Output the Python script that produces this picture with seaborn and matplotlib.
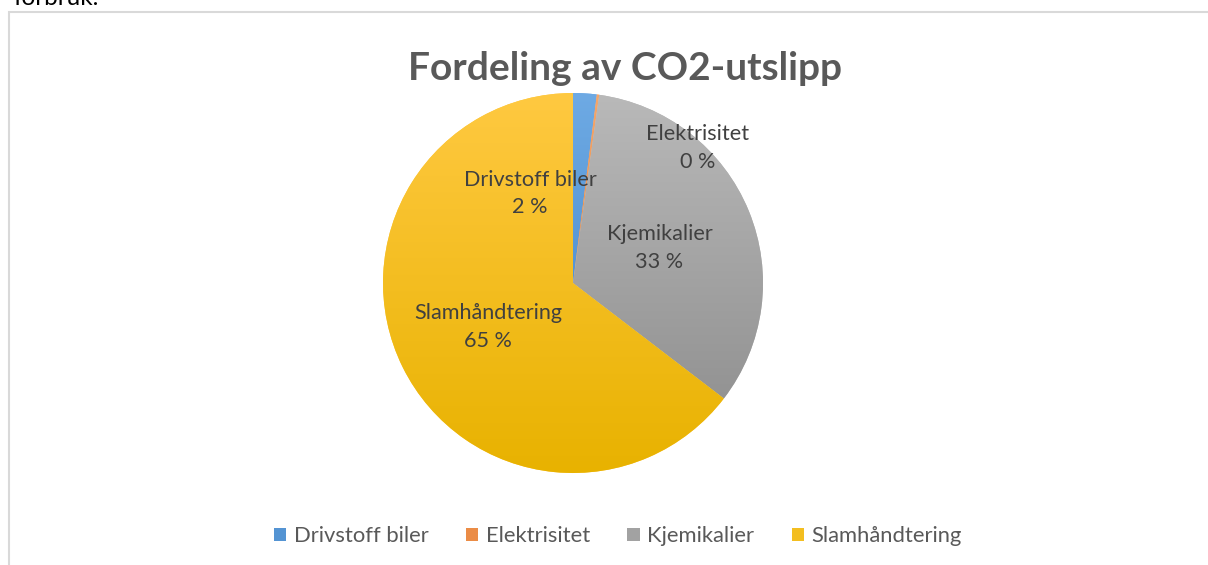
import numpy as np
import matplotlib.pyplot as plt
import matplotlib.colors as mcolors
import matplotlib.patches as mpatches
import seaborn as sns

categories = ["Drivstoff biler", "Elektrisitet", "Kjemikalier", "Slamhåndtering"]
shares = [2.0, 0.2, 33.2, 64.6]
pct_labels = ["2 %", "0 %", "33 %", "65 %"]
title = "Fordeling av CO2-utslipp"

# gradient colours (top, bottom) like the Excel fill
grads = [("#6eaae4", "#3a7ec2"),
         ("#f5a76c", "#e0701f"),
         ("#b9b9b9", "#8a8a8a"),
         ("#ffc941", "#e8b200")]
# label centres in units of the pie radius (Excel "best fit")
label_pos = [(-0.226, 0.47), (0.658, 0.71), (0.455, 0.184), (-0.447, -0.232)]

sns.set_theme(style="white")
plt.rcParams['font.family'] = ['Lato', 'DejaVu Sans']

W, H = 1208, 565
fig = plt.figure(figsize=(W / 100, H / 100), dpi=100)

cx, cy, r = 573, 283, 190
ax = fig.add_axes([(cx - r) / W, (H - cy - r) / H, 2 * r / W, 2 * r / H])
wedges, _ = ax.pie(shares, colors=[g[0] for g in grads], startangle=90,
                   counterclock=False, radius=1,
                   wedgeprops=dict(linewidth=0))

grad = np.linspace(1, 0, 256).reshape(-1, 1)
for w, (top, bot) in zip(wedges, grads):
    cmap = mcolors.LinearSegmentedColormap.from_list("g", [bot, top])
    im = ax.imshow(grad, cmap=cmap, extent=[-1, 1, -1, 1], aspect="auto",
                   vmin=0, vmax=1, zorder=w.get_zorder() + 0.1)
    im.set_clip_path(w)

ax.set_xlim(-1, 1)
ax.set_ylim(-1, 1)
ax.set_aspect("equal")
ax.axis("off")

for cat, pct, (lx, ly) in zip(categories, pct_labels, label_pos):
    ax.text(lx, ly, f"{cat}\n{pct}", ha="center", va="center",
            fontsize=15.6, color="#404040", linespacing=1.45, zorder=5)

fig.text(625 / W, 1 - 68 / H, title, ha="center", va="center",
         fontsize=28, fontweight="bold", color="#595959")

# text from the page above the chart, cut off
fig.text(13 / W, 1 - 5 / H, "forbruk.", ha="left", va="baseline",
         fontsize=17.5, color="#000000")

# chart area border
fig.patches.append(mpatches.Rectangle((8.5 / W, -0.1), 1.2, 1 - 12 / H + 0.1,
                                      transform=fig.transFigure, fill=False,
                                      edgecolor="#d9d9d9", linewidth=1.5))

handles = [mpatches.Patch(facecolor=mcolors.to_hex(np.mean([mcolors.to_rgb(t), mcolors.to_rgb(b)], axis=0)),
                          edgecolor="none", label=c)
           for c, (t, b) in zip(categories, grads)]
fig.legend(handles=handles, loc="center", bbox_to_anchor=(618 / W, 1 - 536 / H),
           ncol=4, frameon=False, fontsize=15.8, handlelength=0.55, handleheight=0.55,
           handletextpad=0.35, columnspacing=1.7, labelcolor="#595959")

fig.savefig("out.png", dpi=100)
